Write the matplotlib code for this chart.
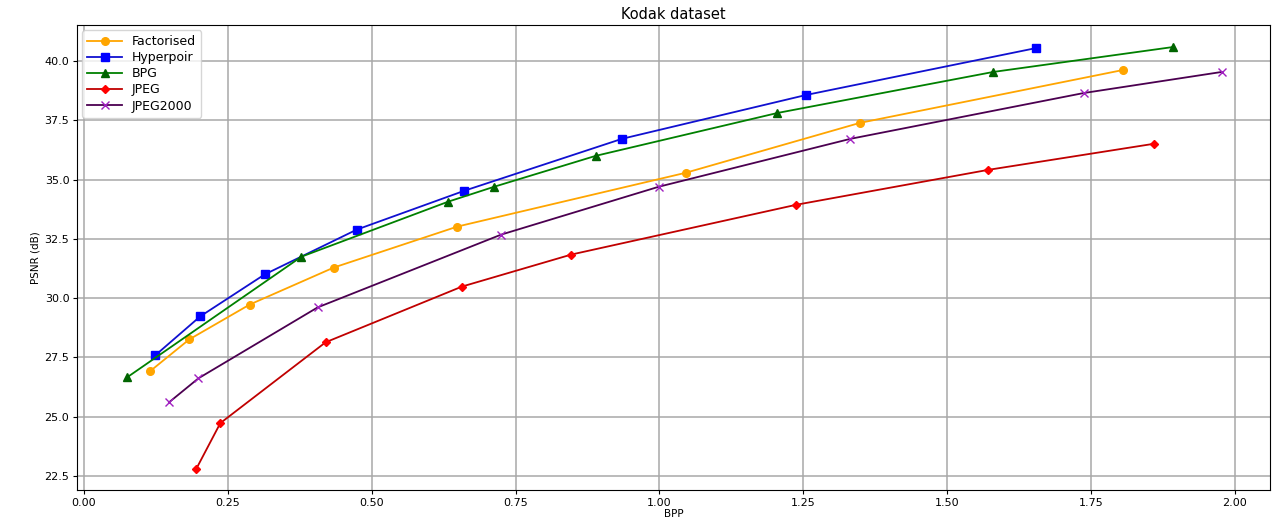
import matplotlib
matplotlib.use('Agg')
import matplotlib.pyplot as plt

# bits per pixel / PSNR
fact_bpp  = [0.115, 0.183, 0.288, 0.434, 0.649, 1.046, 1.348, 1.805]
fact_psnr = [26.92, 28.26, 29.73, 31.29, 33.02, 35.29, 37.39, 39.62]

hyp_bpp  = [0.124, 0.202, 0.314, 0.474, 0.661, 0.935, 1.255, 1.655]
hyp_psnr = [27.59, 29.23, 31.00, 32.89, 34.53, 36.72, 38.57, 40.55]

bpg_bpp  = [0.075, 0.378, 0.633, 0.713, 0.889, 1.205, 1.580, 1.892]
bpg_psnr = [26.66, 31.75, 34.07, 34.70, 36.00, 37.81, 39.54, 40.59]

jpeg_bpp  = [0.195, 0.237, 0.420, 0.657, 0.847, 1.238, 1.571, 1.859]
jpeg_psnr = [22.79, 24.73, 28.14, 30.49, 31.84, 33.94, 35.41, 36.51]

j2k_bpp  = [0.148, 0.199, 0.406, 0.725, 0.999, 1.332, 1.737, 1.977]
j2k_psnr = [25.61, 26.62, 29.61, 32.68, 34.70, 36.72, 38.65, 39.54]

# (label, x, y, marker, line colour, marker colour)
series = [
    ('Factorised', fact_bpp, fact_psnr, 'o', 'orange', 'orange'),
    ('Hyperpoir',  hyp_bpp,  hyp_psnr,  's', '#1010d0', 'blue'),
    ('BPG',        bpg_bpp,  bpg_psnr,  '^', 'green', 'darkgreen'),
    ('JPEG',       jpeg_bpp, jpeg_psnr, 'D', '#c00000', 'red'),
    ('JPEG2000',   j2k_bpp,  j2k_psnr,  'x', '#4b0050', '#a020c0'),
]

fig = plt.figure(figsize=(12.75, 5.22), dpi=100)
ax = fig.add_axes([0.0604, 0.0613, 0.9357, 0.8908])

for label, x, y, mk, lc, mc in series:
    ax.plot(x, y, marker=mk, color=lc, markerfacecolor=mc, markeredgecolor=mc,
            markersize=5.5 if mk != 'D' else 4.5, linewidth=1.3, label=label)

ax.set_xlim(-0.012, 2.061)
ax.set_ylim(21.91, 41.52)
ax.set_xticks([0, 0.25, 0.5, 0.75, 1.0, 1.25, 1.5, 1.75, 2.0])
ax.set_yticks([22.5, 25, 27.5, 30, 32.5, 35, 37.5, 40])
ax.tick_params(labelsize=8, pad=2.5, length=3)
ax.grid(True, color='#a8a8a8', linewidth=1.1)

ax.set_xlabel('BPP', fontsize=7.5, labelpad=1)
ax.set_ylabel('PSNR (dB)', fontsize=7.5, labelpad=3)
ax.set_title('Kodak dataset', fontsize=10.5, pad=4)
ax.legend(loc='upper left', fontsize=9, labelspacing=0.25, handlelength=2.8,
          borderaxespad=0.4)

fig.savefig('out.png', dpi=100)
